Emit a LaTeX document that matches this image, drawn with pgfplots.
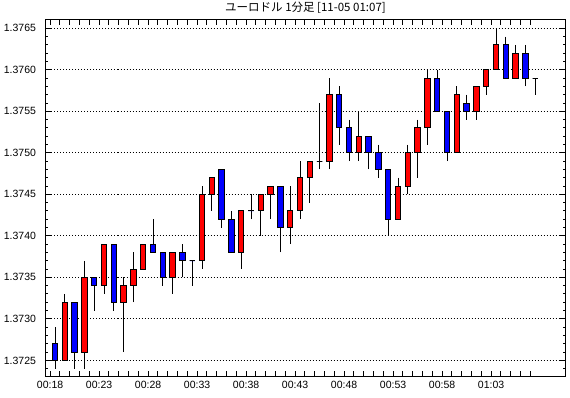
\documentclass[border=0pt]{standalone}
\usepackage{pgfplots}
\pgfplotsset{compat=1.18}
\usepackage{pgfplotstable}
\usepgfplotslibrary{statistics}
\usepackage{fontspec}
\setmainfont{Liberation Sans}
\newfontfamily\cjk{Noto Sans CJK JP}
\definecolor{upred}{RGB}{255,0,0}
\definecolor{downblue}{RGB}{0,0,255}

% t = minutes after 00:18 ; O H L C
\pgfplotstableread{
t O H L C
0 1.3727 1.3729 1.3724 1.3725
1 1.3725 1.3733 1.3725 1.3732
2 1.3732 1.3732 1.3724 1.3726
3 1.3726 1.3737 1.3724 1.3735
4 1.3735 1.3735 1.3731 1.3734
5 1.3734 1.3739 1.3733 1.3739
6 1.3739 1.3739 1.3731 1.3732
7 1.3732 1.3735 1.3726 1.3734
8 1.3734 1.3738 1.3732 1.3736
9 1.3736 1.3739 1.3736 1.3739
10 1.3739 1.3742 1.3738 1.3738
11 1.3738 1.3738 1.3734 1.3735
12 1.3735 1.3738 1.3733 1.3738
13 1.3738 1.3739 1.3735 1.3737
14 1.3737 1.3737 1.3734 1.3737
15 1.3737 1.3746 1.3736 1.3745
16 1.3745 1.3747 1.3743 1.3747
17 1.3748 1.3748 1.3741 1.3742
18 1.3742 1.3743 1.3738 1.3738
19 1.3738 1.3743 1.3736 1.3743
20 1.3743 1.3745 1.3742 1.3743
21 1.3743 1.3745 1.3740 1.3745
22 1.3745 1.3746 1.3742 1.3746
23 1.3746 1.3746 1.3738 1.3741
24 1.3741 1.3746 1.3739 1.3743
25 1.3743 1.3749 1.3742 1.3747
26 1.3747 1.3749 1.3744 1.3749
27 1.3749 1.3756 1.3748 1.3749
28 1.3749 1.3759 1.3748 1.3757
29 1.3757 1.3758 1.3751 1.3753
30 1.3753 1.3754 1.3749 1.3750
31 1.3750 1.3755 1.3749 1.3752
32 1.3752 1.3752 1.3748 1.3750
33 1.3750 1.3751 1.3747 1.3748
34 1.3748 1.3748 1.3740 1.3742
35 1.3742 1.3747 1.3742 1.3746
36 1.3746 1.3751 1.3745 1.3750
37 1.3750 1.3754 1.3747 1.3753
38 1.3753 1.3760 1.3751 1.3759
39 1.3759 1.3760 1.3755 1.3755
40 1.3755 1.3755 1.3749 1.3750
41 1.3750 1.3758 1.3750 1.3757
42 1.3756 1.3757 1.3754 1.3755
43 1.3755 1.3758 1.3754 1.3758
44 1.3758 1.3760 1.3757 1.3760
45 1.3760 1.3765 1.3760 1.3763
46 1.3763 1.3764 1.3759 1.3759
47 1.3759 1.3763 1.3759 1.3762
48 1.3762 1.3763 1.3758 1.3759
49 1.3759 1.3759 1.3757 1.3759
}\candles

\pgfplotstablegetrowsof{\candles}
\pgfmathtruncatemacro\lastrow{\pgfplotsretval-1}

\begin{document}
\begin{tikzpicture}
\useasboundingbox (-45.5pt,-21pt) rectangle (524.5pt,377pt);
\begin{axis}[
  at={(0pt,0pt)}, anchor=south west,
  scale only axis, width=520pt, height=357pt,
  xmin=-0.97, xmax=52.09,
  ymin=1.3723, ymax=1.3766,
  axis line style={line width=1pt},
  tick align=inside,
  major tick length=5.5pt, minor tick length=3pt,
  tick style={black, line width=1pt},
  xtick={-0.5,0.5,...,48.5},
  xticklabels={00:18,,,,,00:23,,,,,00:28,,,,,00:33,,,,,00:38,,,,,00:43,,,,,00:48,,,,,00:53,,,,,00:58,,,,,01:03,,,,},
  ytick={1.3725,1.3730,1.3735,1.3740,1.3745,1.3750,1.3755,1.3760,1.3765},
  minor ytick={1.3723,1.3724,1.3726,1.3727,1.3728,1.3729,1.3731,1.3732,1.3733,1.3734,1.3736,1.3737,1.3738,1.3739,1.3741,1.3742,1.3743,1.3744,1.3746,1.3747,1.3748,1.3749,1.3751,1.3752,1.3753,1.3754,1.3756,1.3757,1.3758,1.3759,1.3761,1.3762,1.3763,1.3764,1.3766},
  scaled y ticks=false,
  yticklabel style={/pgf/number format/fixed, /pgf/number format/precision=4, /pgf/number format/fixed zerofill, xshift=-6pt},
  /pgf/number format/assume math mode=true,
  tick label style={font=\fontsize{10.5}{12}\selectfont},
  xticklabel style={yshift=-1pt},
  ymajorgrids,
  major grid style={black, line width=1pt, dotted},
  title={\cjk ユーロドル 1分足 [11-05 01:07]},
  title style={at={(0.5,1)}, anchor=base, yshift=2.5pt, font=\fontsize{11.5}{13}\selectfont},
  boxplot/draw direction=y,
  boxplot/box extend=0.55,
  boxplot/whisker extend=0,
]
\pgfplotsinvokeforeach{0,...,\lastrow}{%
  \pgfplotstablegetelem{#1}{O}\of\candles \let\vO\pgfplotsretval
  \pgfplotstablegetelem{#1}{H}\of\candles \let\vH\pgfplotsretval
  \pgfplotstablegetelem{#1}{L}\of\candles \let\vL\pgfplotsretval
  \pgfplotstablegetelem{#1}{C}\of\candles \let\vC\pgfplotsretval
  \ifdim\vC pt>\vO pt
    \let\lo\vO \let\hi\vC \def\cc{upred}%
  \else
    \let\lo\vC \let\hi\vO \def\cc{downblue}%
  \fi
  \edef\candle{\noexpand\addplot[draw=black, fill=\cc, line width=1pt,
     boxplot prepared={draw position=#1, lower whisker=\vL, lower quartile=\lo,
       median=\lo, upper quartile=\hi, upper whisker=\vH}] coordinates {};}%
  \candle
}
\end{axis}
\end{tikzpicture}
\end{document}
